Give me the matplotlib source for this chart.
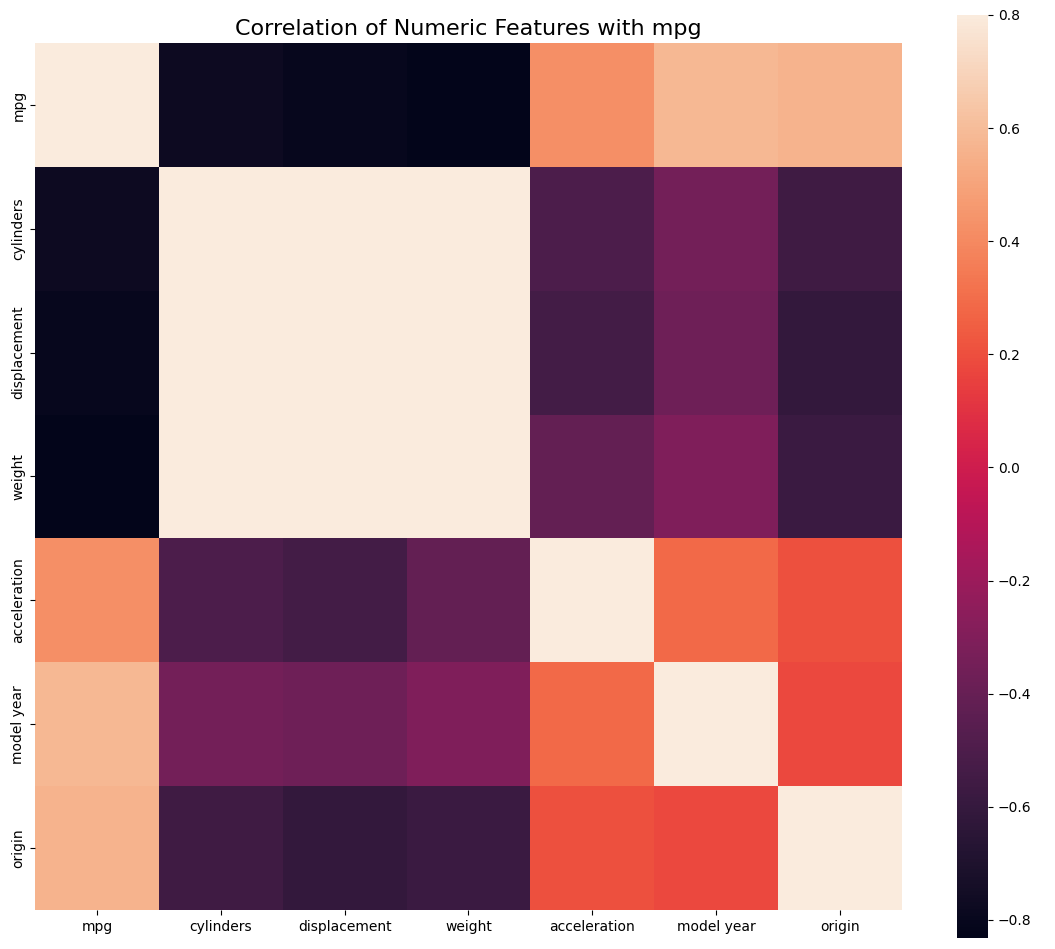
import numpy as np
import pandas as pd
import matplotlib
matplotlib.use("Agg")
import matplotlib.pyplot as plt
import seaborn as sns

features = ["mpg", "cylinders", "displacement", "weight", "acceleration", "model year", "origin"]
mpg_row = [1.0, -0.775, -0.804, -0.832, 0.420, 0.579, 0.563]
cyl_row = [-0.775, 1.0, 0.951, 0.896, -0.505, -0.349, -0.563]
disp_row = [-0.804, 0.951, 1.0, 0.933, -0.544, -0.370, -0.610]
weight_row = [-0.832, 0.896, 0.933, 1.0, -0.417, -0.307, -0.581]
acc_row = [0.420, -0.505, -0.544, -0.417, 1.0, 0.288, 0.206]
year_row = [0.579, -0.349, -0.370, -0.307, 0.288, 1.0, 0.181]
origin_row = [0.563, -0.563, -0.610, -0.581, 0.206, 0.181, 1.0]

corrmat = pd.DataFrame([mpg_row, cyl_row, disp_row, weight_row, acc_row, year_row, origin_row],
                       index=features, columns=features)

fig = plt.figure(figsize=(10.55, 9.49), dpi=100)
ax = fig.add_axes([35/1055, 1 - 910/949, 867/1055, 867/949])
cax = fig.add_axes([957/1055, 1 - 938/949, 31/1055, 923/949])
sns.heatmap(corrmat, vmax=.8, square=True, ax=ax, cbar_ax=cax)
ax.set_title("Correlation of Numeric Features with mpg", fontsize=16)
fig.savefig("out.png", dpi=100)
